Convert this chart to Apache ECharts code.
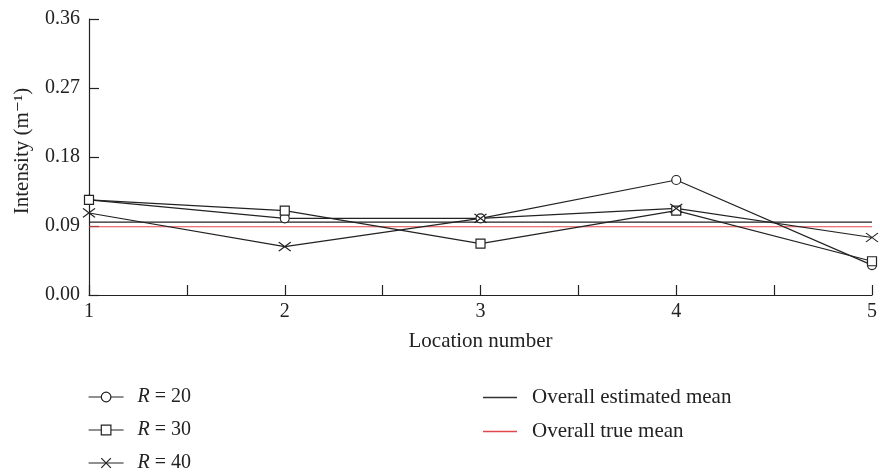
<!DOCTYPE html>
<html>
<head>
<meta charset="utf-8">
<script src="https://cdn.jsdelivr.net/npm/echarts@6/dist/echarts.min.js"></script>
<style>
  html, body { margin: 0; padding: 0; background: #fff; }
  #chart { width: 880px; height: 473px; }
</style>
</head>
<body>
<div id="chart"></div>
<script>
// Location numbers along the x axis
const locations = [1, 2, 3, 4, 5];
// Estimated intensity at each location for three radii
const r20 = [0.124, 0.100, 0.100, 0.150, 0.039];
const r30 = [0.124, 0.110, 0.067, 0.110, 0.044];
const r40 = [0.107, 0.063, 0.100, 0.113, 0.075];
// Overall means (horizontal reference lines)
const estimatedMean = 0.095;
const trueMean = 0.089;
// Y axis ticks
const yTicks = [0.00, 0.09, 0.18, 0.27, 0.36];

const ink = '#222';
const red = '#e4474b';
const font = '"Liberation Serif", "DejaVu Serif", serif';
const fs = 20;

function pairs(vals) { return locations.map((x, i) => [x, vals[i]]); }
function flat(v) { return [[locations[0], v], [locations[locations.length - 1], v]]; }

const crossPath = 'path://M0,0L12,9M12,0L0,9';

function pointSeries(name, vals, symbol, size) {
  return {
    name, type: 'line', data: pairs(vals),
    symbol, symbolSize: size, showSymbol: true,
    lineStyle: { color: ink, width: 1.2 },
    itemStyle: { color: '#fff', borderColor: ink, borderWidth: 1.2 },
    emphasis: { disabled: true }, z: 3
  };
}

const chart = echarts.init(document.getElementById('chart'), null, { renderer: 'canvas' });
chart.setOption({
  animation: false,
  backgroundColor: '#fff',
  textStyle: { fontFamily: font },
  grid: { left: 89, right: 8, top: 19, bottom: 178 },
  xAxis: {
    type: 'value', min: 1, max: 5, interval: 0.5,
    name: 'Location number', nameLocation: 'middle', nameGap: 36,
    nameTextStyle: { fontFamily: font, fontSize: fs + 1, color: ink },
    axisLine: { lineStyle: { color: ink, width: 1.2 } },
    axisTick: { inside: true, length: 10, lineStyle: { color: ink, width: 1.2 } },
    axisLabel: {
      fontFamily: font, fontSize: fs, color: ink, margin: 7,
      formatter: v => Number.isInteger(v) ? String(v) : ''
    },
    splitLine: { show: false }
  },
  yAxis: {
    type: 'value', min: yTicks[0], max: yTicks[yTicks.length - 1], interval: 0.09,
    name: 'Intensity (m⁻¹)', nameLocation: 'middle', nameGap: 56, nameRotate: 90,
    nameTextStyle: { fontFamily: font, fontSize: fs + 1, color: ink, padding: [0, 0, 0, 12] },
    axisLine: { show: true, lineStyle: { color: ink, width: 1.2 } },
    axisTick: { show: true, inside: true, length: 10, lineStyle: { color: ink, width: 1.2 } },
    axisLabel: { fontFamily: font, fontSize: fs, color: ink, margin: 9, formatter: v => v.toFixed(2) },
    splitLine: { show: false }
  },
  legend: [
    {
      data: ['R = 20', 'R = 30', 'R = 40'],
      orient: 'vertical', left: 88, top: 387, height: 90, padding: 0,
      itemWidth: 35, itemHeight: 12, itemGap: 13,
      lineStyle: { color: ink, width: 1.2 },
      itemStyle: { color: '#fff', borderColor: ink, borderWidth: 1.2 },
      formatter: n => '{i|R}' + n.slice(1),
      textStyle: {
        fontFamily: font, fontSize: fs, color: ink, padding: [0, 0, 0, 9],
        rich: { i: { fontFamily: font, fontSize: fs, fontStyle: 'italic', color: ink } }
      }
    },
    {
      data: [
        { name: 'Overall estimated mean', icon: 'rect', itemStyle: { color: '#333' } },
        { name: 'Overall true mean', icon: 'rect', itemStyle: { color: red } }
      ],
      orient: 'vertical', left: 483, top: 387, height: 90, padding: 0,
      itemWidth: 34, itemHeight: 1.6, itemGap: 13,
      textStyle: { fontFamily: font, fontSize: fs + 1, color: ink, padding: [0, 0, 0, 10] }
    }
  ],
  series: [
    {
      name: 'Overall estimated mean', type: 'line', data: flat(estimatedMean),
      symbol: 'none', lineStyle: { color: ink, width: 1.2 }, itemStyle: { color: ink }, z: 2
    },
    {
      name: 'Overall true mean', type: 'line', data: flat(trueMean),
      symbol: 'none', lineStyle: { color: red, width: 1.2 }, itemStyle: { color: red }, z: 2
    },
    pointSeries('R = 20', r20, 'circle', 9),
    pointSeries('R = 30', r30, 'rect', 9),
    pointSeries('R = 40', r40, crossPath, [12, 9])
  ]
});
</script>
</body>
</html>
